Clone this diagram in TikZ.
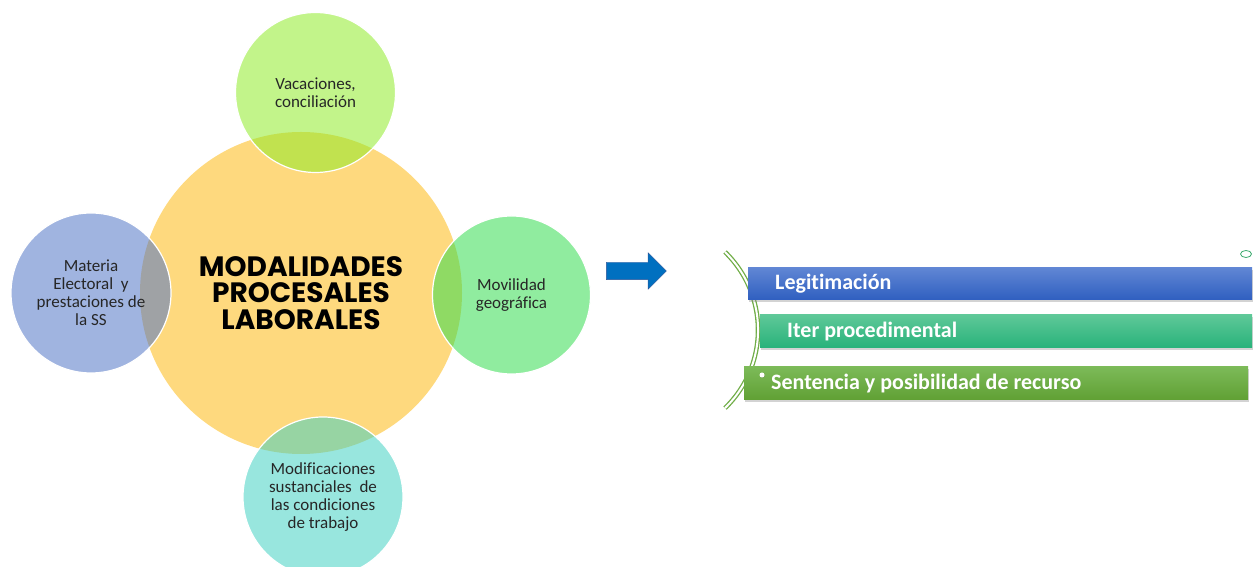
\documentclass[tikz,border=0pt]{standalone}
\usepackage{fontspec}
\setmainfont{Carlito}[Ligatures={NoCommon}]
\newfontfamily\titlefont{Poppins}
\usetikzlibrary{shapes,arrows,positioning,calc,shadows}
\definecolor{coreyellow}{RGB}{254,217,126}
\definecolor{limegreen}{RGB}{144,235,42}
\definecolor{slateblue}{RGB}{82,118,198}
\definecolor{mintgreen}{RGB}{53,220,80}
\definecolor{aquateal}{RGB}{67,209,195}
\definecolor{arrowblue}{RGB}{0,112,192}
\definecolor{arrowedge}{RGB}{47,85,151}
\definecolor{textgray}{RGB}{38,38,38}
\definecolor{arcgreen}{RGB}{112,173,71}
\definecolor{ringgreen}{RGB}{60,170,110}
\definecolor{bluetop}{RGB}{96,134,212}
\definecolor{bluebot}{RGB}{47,95,192}
\definecolor{tealtop}{RGB}{94,200,152}
\definecolor{tealbot}{RGB}{40,178,122}
\definecolor{greentop}{RGB}{124,186,88}
\definecolor{greenbot}{RGB}{96,160,52}

\begin{document}
\begin{tikzpicture}[x=1pt,y=1pt,
    satellite/.style={circle, draw=white, line width=1.2pt, fill opacity=0.55, text opacity=1, minimum size=160pt, inner sep=0pt, align=flush center, text=textgray, font=\fontsize{17}{18}\selectfont},
    stagebar/.style={rectangle, anchor=west, minimum height=33pt, inner xsep=27pt, inner ysep=0pt, align=flush left, text=white, font=\fontsize{22}{24}\selectfont\bfseries, drop shadow={shadow xshift=1pt, shadow yshift=-2pt, opacity=0.35}}]
    \useasboundingbox (0,0) rectangle (1259,567);

    % Central circle and satellites
    \node[circle, fill=coreyellow, minimum size=322pt, inner sep=0pt, align=flush center, font=\titlefont\bfseries\fontsize{28}{26.5}\selectfont] (core) at (301,274) {MODALIDADES\\PROCESALES\\LABORALES};
    \node[satellite, fill=limegreen] (vacaciones) at (315.5,474.5) {Vacaciones,\\conciliación};
    \node[satellite, fill=slateblue] (materia) at (91,274) {Materia\\Electoral~ y\\prestaciones de\\la SS};
    \node[satellite, fill=mintgreen, minimum size=158pt] (movilidad) at (511.5,272) {Movilidad\\geográfica};
    \node[satellite, fill=aquateal] (modificaciones) at (323,70) {Modificaciones\\sustanciales~ de\\las condiciones\\de trabajo};

    % Block arrow
    \node[single arrow, draw=arrowedge, fill=arrowblue, minimum height=60pt, minimum width=36pt, single arrow head extend=9.5pt, single arrow tip angle=90, inner xsep=0pt, inner ysep=8.5pt] (pointer) at (632,296) {};

    % Bracket arc
    \coordinate (arctop) at (725,315);
    \draw[arcgreen, line width=1.3pt, double=white, double distance=2pt] (arctop) arc[start angle=45.9, end angle=-45.9, radius=108.7];

    % Stage bars
    \node[stagebar, top color=bluetop, bottom color=bluebot, text width=450pt, minimum height=32pt] (legitimacion) at (748,283) {Legitimación};
    \node[stagebar, top color=tealtop, bottom color=tealbot, text width=438pt] (iter) at (760,235.5) {Iter procedimental};
    \node[stagebar, top color=greentop, bottom color=greenbot, text width=450pt] (sentencia) at (744,183.5) {Sentencia y posibilidad de recurso};

    % Small marks
    \node[ellipse, draw=ringgreen, line width=0.8pt, minimum width=11pt, minimum height=7pt, inner sep=0pt] (ring) at (1246,313) {};
    \node[circle, fill=white, minimum size=5pt, inner sep=0pt, drop shadow={shadow xshift=0.5pt, shadow yshift=-0.5pt, opacity=0.4}] (bullet) at (762,192) {};
\end{tikzpicture}
\end{document}
